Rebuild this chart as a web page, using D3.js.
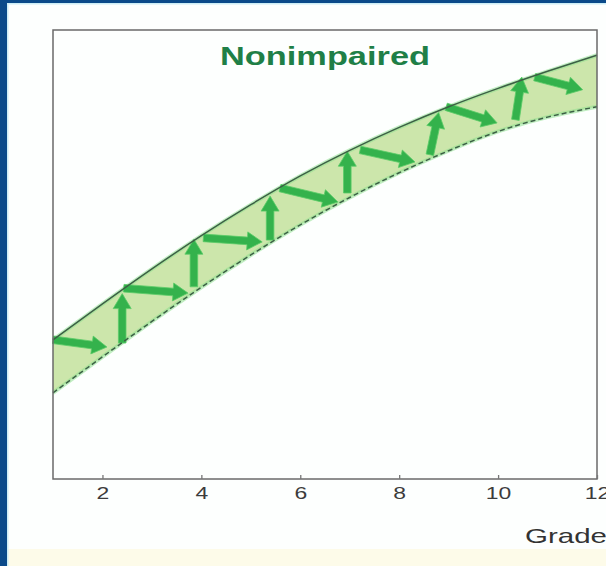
<!DOCTYPE html>
<html><head><meta charset="utf-8">
<script src="https://cdn.jsdelivr.net/npm/d3@7"></script>
<style>
html,body{margin:0;padding:0;background:#fdfbea;}
svg{display:block;}
</style></head>
<body>
<svg id="c" width="606" height="566"></svg>
<script>
// ---- data ----
const grades = [1,2,3,4,5,6,7,8,9,10,11,12];
const upperValues = [31.0,39.0,46.8,54.2,61.1,67.5,73.2,78.3,82.9,87.0,90.8,94.4];
const lowerValues = [19.2,27.2,35.1,42.7,49.9,56.6,62.7,68.2,73.1,77.4,80.6,82.9];
const tickGrades = [2,4,6,8,10,12];
// horizontal-ish arrows: [grade0, value0, grade1, value1]
const slideArrows = [
  [1.00,31.0,2.09,29.4],[2.43,42.5,3.73,41.4],[4.04,53.7,5.23,52.8],
  [5.59,64.8,6.76,61.7],[7.21,73.3,8.32,70.6],[8.95,82.9,9.98,79.3],
  [10.74,89.5,11.71,86.7]
];
// upward arrows: [grade0, value0, grade1, value1]
const growthArrows = [
  [2.40,30.3,2.40,41.3],[3.85,42.8,3.85,53.4],[5.39,53.2,5.39,63.0],
  [6.95,63.7,6.95,73.0],[8.62,72.2,8.80,81.6],[10.35,80.0,10.48,89.5]
];
const titleText = "Nonimpaired";
const xTitle = "Grade";

// ---- drawing ----
const svg = d3.select("#c");
svg.append("rect").attr("x",0).attr("y",0).attr("width",606).attr("height",549).attr("fill","#fdfffe");
svg.append("rect").attr("x",0).attr("y",549).attr("width",606).attr("height",17).attr("fill","#fdfbe9");
svg.append("rect").attr("x",7).attr("y",3).attr("width",603).attr("height",570).attr("fill","none").attr("stroke","#cdeef6").attr("stroke-width",3);
svg.append("rect").attr("x",0).attr("y",0).attr("width",7).attr("height",566).attr("fill","#0b4a8a");
svg.append("rect").attr("x",0).attr("y",0).attr("width",606).attr("height",3).attr("fill","#0b4a8a");

const x = d3.scaleLinear().domain([1,12]).range([53,597]);
const y = d3.scaleLinear().domain([0,100]).range([479,30]);

const upper = grades.map((g,i)=>[g,upperValues[i]]);
const lower = grades.map((g,i)=>[g,lowerValues[i]]);
const line = d3.line().x(d=>x(d[0])).y(d=>y(d[1])).curve(d3.curveNatural);
const area = d3.area().x(d=>x(d[0])).y0(d=>y(d[2])).y1(d=>y(d[1])).curve(d3.curveNatural);
const band = grades.map((g,i)=>[g,upperValues[i],lowerValues[i]]);

svg.append("path").datum(band).attr("d",area).attr("fill","#cce6ab");
[upper,lower].forEach(d=>{
  svg.append("path").datum(d).attr("d",line).attr("fill","none")
    .attr("stroke","#8fe08f").attr("stroke-width",4).attr("opacity",0.55);
});

function arrowPath(a){
  const x0=x(a[0]), y0=y(a[1]), x1=x(a[2]), y1=y(a[3]);
  const dx=x1-x0, dy=y1-y0, L=Math.hypot(dx,dy);
  const ux=dx/L, uy=dy/L, nx=-uy, ny=ux;
  const w=3.8, h=9, hl=15;
  const bx=x1-ux*hl, by=y1-uy*hl;
  const pts=[[x0+nx*w,y0+ny*w],[bx+nx*w,by+ny*w],[bx+nx*h,by+ny*h],[x1,y1],
             [bx-nx*h,by-ny*h],[bx-nx*w,by-ny*w],[x0-nx*w,y0-ny*w]];
  return "M"+pts.map(p=>p[0].toFixed(1)+","+p[1].toFixed(1)).join("L")+"Z";
}
svg.append("g").selectAll("path").data(slideArrows.concat(growthArrows)).join("path")
  .attr("d",arrowPath).attr("fill","#34b24c").attr("stroke","#5ccd68").attr("stroke-width",0.8);

svg.append("path").datum(upper).attr("d",line).attr("fill","none")
  .attr("stroke","#3c6045").attr("stroke-width",1.5);
svg.append("path").datum(lower).attr("d",line).attr("fill","none")
  .attr("stroke","#3c6045").attr("stroke-width",1.5).attr("stroke-dasharray","5,3");

svg.append("rect").attr("x",x(1)).attr("y",y(100)).attr("width",x(12)-x(1)).attr("height",y(0)-y(100))
  .attr("fill","none").attr("stroke","#6a6a6a").attr("stroke-width",1.5);

const ax = svg.append("g").attr("transform",`translate(0,${y(0)})`)
  .call(d3.axisBottom(x).tickValues(tickGrades).tickSize(-4).tickPadding(0).tickFormat(d3.format("d")));
ax.select(".domain").remove();
ax.selectAll("line").attr("stroke","#777").attr("stroke-width",1.3);
ax.selectAll("text").attr("y",20).attr("dy",0).attr("font-family","Liberation Sans, Arial, sans-serif")
  .attr("font-size",17).attr("fill","#3c3c3c").attr("transform","scale(1.35,1)");

svg.append("text").attr("x",525).attr("y",543).attr("font-family","Liberation Sans, Arial, sans-serif")
  .attr("font-size",21).attr("fill","#333").attr("textLength",82).attr("lengthAdjust","spacingAndGlyphs").text(xTitle);

svg.append("text").attr("x",220).attr("y",65).attr("font-family","Liberation Sans, Arial, sans-serif")
  .attr("font-weight","bold").attr("font-size",25).attr("fill","#1f7f47")
  .attr("textLength",210).attr("lengthAdjust","spacingAndGlyphs").text(titleText);
</script>
</body></html>
